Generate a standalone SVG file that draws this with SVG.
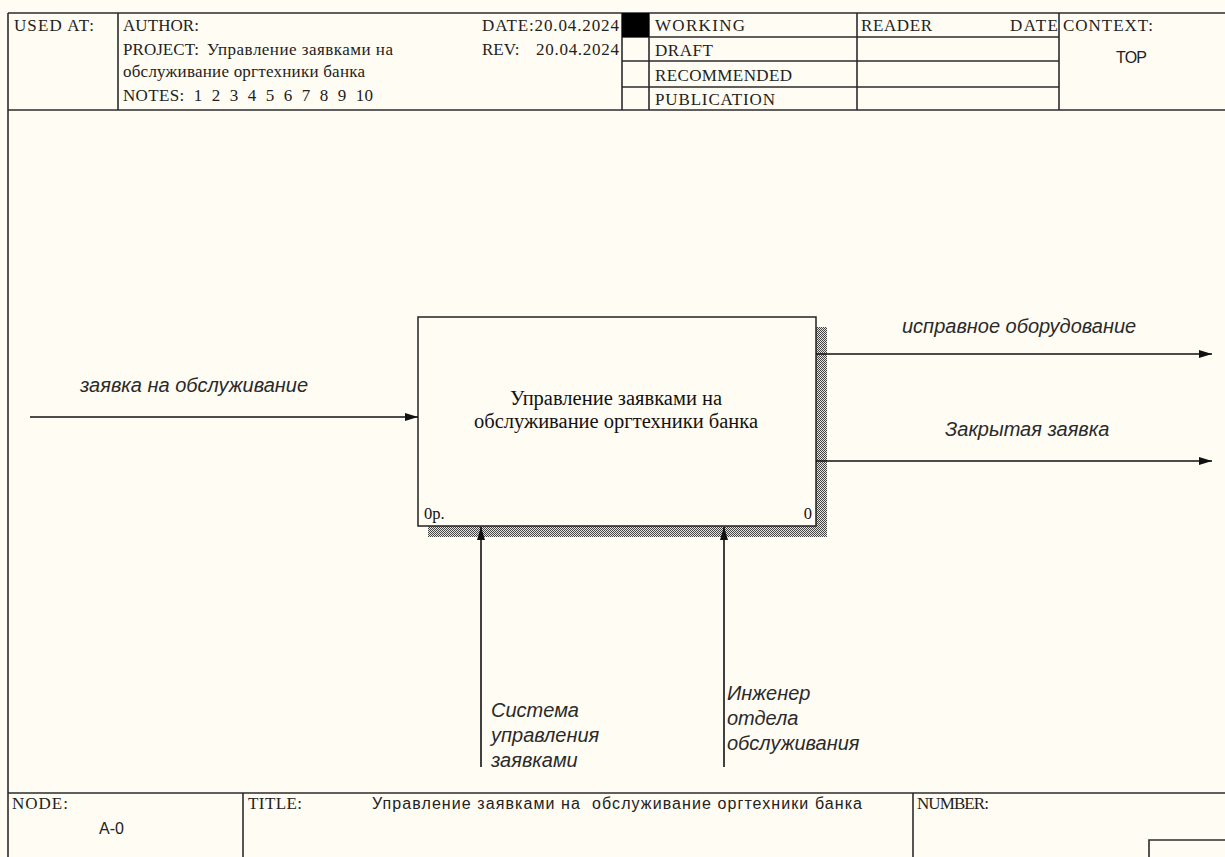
<svg xmlns="http://www.w3.org/2000/svg" width="1225" height="857" viewBox="0 0 1225 857">
<style>
  .bg{fill:#fffcf3}
  .ln{stroke:#2b2b2b;stroke-width:1.6;fill:none}
  .hd{font-family:"Liberation Serif","Times New Roman",serif;font-size:17px;fill:#222;white-space:pre}
  .ss{font-family:"Liberation Sans",Arial,sans-serif;font-size:16px;fill:#222;white-space:pre}
  .box{fill:#fffcf3;stroke:#222;stroke-width:1.5}
  .bt{font-family:"Liberation Serif","Times New Roman",serif;font-size:20.5px;fill:#111;text-anchor:middle}
  .bn{font-family:"Liberation Serif","Times New Roman",serif;font-size:16.5px;fill:#111}
  .lab{font-family:"Liberation Sans",Arial,sans-serif;font-style:italic;font-size:20px;fill:#2a2a2a}
  .arr{stroke:#111;stroke-width:1.6;fill:none;marker-end:url(#ah)}
</style>
<defs>
  <marker id="ah" viewBox="0 0 13 8" refX="13" refY="4" markerWidth="13" markerHeight="8" markerUnits="userSpaceOnUse" orient="auto">
    <path d="M0,0 L13,4 L0,8 Z" fill="#111"/>
  </marker>
  <pattern id="hatch" width="2" height="2" patternUnits="userSpaceOnUse">
    <rect width="2" height="2" fill="#e8e6dc"/>
    <rect x="0" y="0" width="1" height="1" fill="#444"/>
    <rect x="1" y="1" width="1" height="1" fill="#444"/>
  </pattern>
</defs>
<rect class="bg" x="0" y="0" width="1225" height="857"/>

<g id="frame">
  <line class="ln" x1="8" y1="13" x2="1225" y2="13"/>
  <line class="ln" x1="8" y1="13" x2="8" y2="857"/>
  <line class="ln" x1="8" y1="110" x2="1225" y2="110"/>
  <line class="ln" x1="118" y1="13" x2="118" y2="110"/>
  <line class="ln" x1="622" y1="13" x2="622" y2="110"/>
  <line class="ln" x1="649" y1="13" x2="649" y2="110"/>
  <line class="ln" x1="857" y1="13" x2="857" y2="110"/>
  <line class="ln" x1="1059" y1="13" x2="1059" y2="110"/>
  <line class="ln" x1="622" y1="37" x2="1059" y2="37"/>
  <line class="ln" x1="622" y1="61" x2="1059" y2="61"/>
  <line class="ln" x1="622" y1="87" x2="1059" y2="87"/>
  <rect x="622" y="13" width="27" height="24" fill="#000"/>
  <text class="hd" x="14" y="31" textLength="80" lengthAdjust="spacing">USED AT:</text>
  <text class="hd" x="123" y="31" textLength="76" lengthAdjust="spacing">AUTHOR:</text>
  <text class="hd" x="123" y="55" textLength="76" lengthAdjust="spacing">PROJECT:</text>
  <text class="hd" x="207" y="55" textLength="186" lengthAdjust="spacing" font-size="15.5px">Управление заявками на</text>
  <text class="hd" x="123" y="77" textLength="242" lengthAdjust="spacing" font-size="15.5px">обслуживание оргтехники банка</text>
  <text class="hd" x="123" y="101" textLength="250" lengthAdjust="spacing">NOTES:  1  2  3  4  5  6  7  8  9  10</text>
  <text class="hd" x="482" y="31" textLength="137" lengthAdjust="spacing">DATE:20.04.2024</text>
  <text class="hd" x="482" y="55">REV:</text>
  <text class="hd" x="536" y="55" textLength="83" lengthAdjust="spacing">20.04.2024</text>
  <text class="hd" x="655" y="31" textLength="90" lengthAdjust="spacing">WORKING</text>
  <text class="hd" x="655" y="56" textLength="58" lengthAdjust="spacing">DRAFT</text>
  <text class="hd" x="655" y="81" textLength="137" lengthAdjust="spacing">RECOMMENDED</text>
  <text class="hd" x="655" y="105" textLength="120" lengthAdjust="spacing">PUBLICATION</text>
  <text class="hd" x="861" y="31" textLength="71" lengthAdjust="spacing">READER</text>
  <text class="hd" x="1010" y="31" textLength="48" lengthAdjust="spacing">DATE</text>
  <text class="hd" x="1063" y="31" textLength="90" lengthAdjust="spacing">CONTEXT:</text>
  <text class="ss" x="1116" y="63" textLength="31" lengthAdjust="spacing">TOP</text>

  <line class="ln" x1="8" y1="793" x2="1225" y2="793"/>
  <line class="ln" x1="243" y1="793" x2="243" y2="857"/>
  <line class="ln" x1="913" y1="793" x2="913" y2="857"/>
  <polyline class="ln" points="1149,857 1149,840 1225,840"/>
  <text class="hd" x="12" y="809" textLength="56" lengthAdjust="spacing">NODE:</text>
  <text class="ss" x="99" y="834">A-0</text>
  <text class="hd" x="248" y="809" textLength="54" lengthAdjust="spacing">TITLE:</text>
  <text class="ss" x="372" y="809" textLength="490" lengthAdjust="spacing">Управление заявками на  обслуживание оргтехники банка</text>
  <text class="hd" x="917" y="809" textLength="72" lengthAdjust="spacing">NUMBER:</text>
</g>

<g id="node-A0">
  <rect x="428" y="327" width="399" height="210" fill="url(#hatch)"/>
  <rect class="box" x="418" y="317" width="398" height="209"/>
  <text class="bt" x="616" y="405">Управление заявками на</text>
  <text class="bt" x="616" y="428">обслуживание оргтехники банка</text>
  <text class="bn" x="424" y="519">0р.</text>
  <text class="bn" x="812" y="519" text-anchor="end">0</text>
</g>

<g id="connectors">
  <line class="arr" x1="30" y1="417" x2="418" y2="417"/>
  <line class="arr" x1="816" y1="354" x2="1212" y2="354"/>
  <line class="arr" x1="816" y1="461" x2="1212" y2="461"/>
  <line class="arr" x1="481" y1="767" x2="481" y2="527"/>
  <line class="arr" x1="724" y1="767" x2="724" y2="527"/>
</g>

<g id="labels">
  <text class="lab" x="491" y="717">Система</text>
  <text class="lab" x="491" y="742">управления</text>
  <text class="lab" x="491" y="767">заявками</text>
  <text class="lab" x="727" y="700">Инженер</text>
  <text class="lab" x="727" y="725">отдела</text>
  <text class="lab" x="727" y="750">обслуживания</text>
  <text class="lab" x="80" y="392">заявка на обслуживание</text>
  <text class="lab" x="902" y="333">исправное оборудование</text>
  <text class="lab" x="945" y="436">Закрытая заявка</text>
</g>
</svg>
